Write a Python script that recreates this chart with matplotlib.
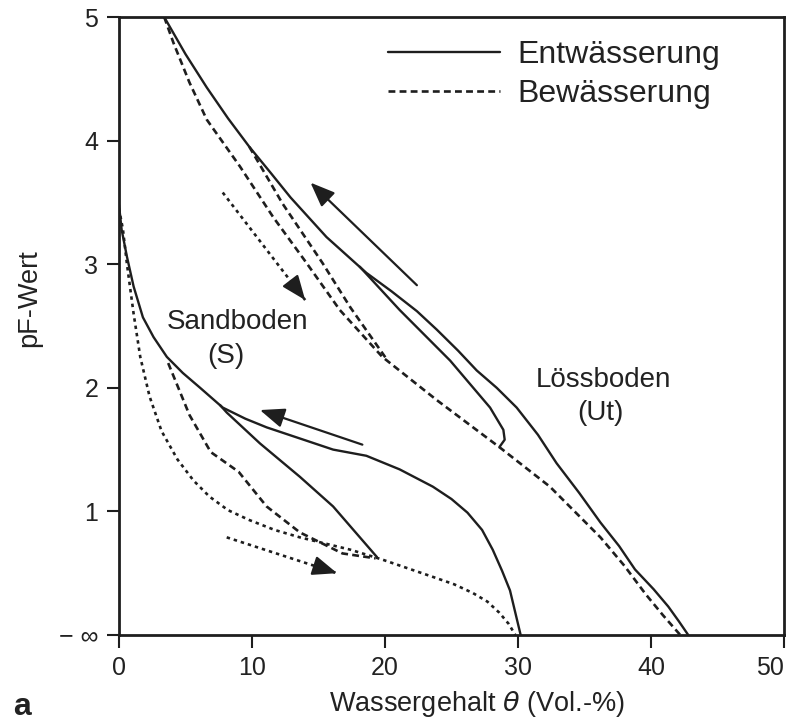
import matplotlib
matplotlib.use("Agg")
import matplotlib.pyplot as plt
from matplotlib.lines import Line2D

plt.rcParams['font.family'] = ['Liberation Sans', 'DejaVu Sans']

# ---------------- data ----------------
# Loessboden (Ut)
loess_drain_x = [3.4, 5.0, 6.6, 8.2, 9.8, 11.4, 12.9, 15.6, 18.6, 20.5, 22.4, 23.9, 25.5, 26.9, 28.4, 29.9,
                 31.5, 32.9, 34.6, 36.2, 37.6, 38.8, 40.2, 41.3, 42.1, 42.8]
loess_drain_y = [5.0, 4.70, 4.43, 4.18, 3.95, 3.74, 3.54, 3.22, 2.93, 2.78, 2.62, 2.47, 2.30, 2.14, 2.0, 1.84,
                 1.62, 1.39, 1.15, 0.91, 0.72, 0.53, 0.37, 0.23, 0.11, 0.0]
loess_wet_x = [3.4, 4.1, 5.3, 6.6, 9.1, 11.6, 14.1, 16.6, 19.8, 23.9, 28.6, 32.4, 36.2, 38.0, 39.6, 40.9, 42.2]
loess_wet_y = [5.0, 4.79, 4.47, 4.17, 3.79, 3.38, 3.01, 2.63, 2.25, 1.90, 1.52, 1.20, 0.79, 0.56, 0.33, 0.16, 0.0]
loess_wet_scan_x = [9.8, 12.3, 15.3, 17.4, 20.2]
loess_wet_scan_y = [3.95, 3.49, 3.01, 2.65, 2.22]
loess_drain_scan_x = [28.6, 29.0, 28.9, 27.9, 24.9, 21.1, 18.1]
loess_drain_scan_y = [1.52, 1.58, 1.66, 1.84, 2.22, 2.63, 2.98]
loess_drain_arrow = [(22.4, 2.83), (14.4, 3.66)]
loess_wet_arrow = [(7.8, 3.58), (14.0, 2.71)]

# Sandboden (S)
sand_drain_x = [0.0, 0.2, 0.6, 1.1, 1.8, 2.6, 3.6, 4.8, 6.1, 7.8, 9.5, 11.1, 13.6, 16.1, 18.6, 21.1, 23.6,
                25.0, 26.2, 27.3, 28.1, 28.8, 29.4, 29.8, 30.2]
sand_drain_y = [3.48, 3.28, 3.06, 2.82, 2.57, 2.41, 2.25, 2.12, 2.0, 1.84, 1.75, 1.68, 1.59, 1.50, 1.45, 1.34,
                1.20, 1.10, 0.99, 0.85, 0.69, 0.52, 0.36, 0.18, 0.0]
sand_wet_x = [0.0, 0.3, 0.6, 1.1, 1.6, 2.3, 3.2, 4.4, 5.6, 6.8, 8.2, 9.8, 11.7, 13.6, 15.5, 17.4, 19.8,
              21.7, 23.6, 25.2, 26.6, 27.7, 28.6, 29.3, 29.8]
sand_wet_y = [3.45, 3.28, 3.0, 2.6, 2.25, 1.93, 1.65, 1.42, 1.25, 1.12, 1.01, 0.93, 0.85, 0.79, 0.74, 0.69, 0.61,
              0.54, 0.47, 0.41, 0.34, 0.27, 0.18, 0.09, 0.0]
sand_wet_scan_x = [3.7, 5.3, 6.9, 9.0, 11.1, 13.6, 16.8, 19.3]
sand_wet_scan_y = [2.20, 1.78, 1.48, 1.32, 1.04, 0.83, 0.66, 0.62]
sand_drain_scan_x = [19.4, 16.1, 13.6, 10.6, 8.1, 7.6]
sand_drain_scan_y = [0.63, 1.04, 1.28, 1.55, 1.80, 1.86]
sand_drain_arrow = [(18.3, 1.54), (10.6, 1.82)]
sand_wet_arrow = [(8.1, 0.79), (16.4, 0.50)]

x_ticks = [0, 10, 20, 30, 40, 50]
y_ticks = [0, 1, 2, 3, 4, 5]
y_tick_labels = ['\u2212 \u221e', '1', '2', '3', '4', '5']
legend_labels = ['Entw\u00e4sserung', 'Bew\u00e4sserung']

# ---------------- figure ----------------
C = '#1e1e1e'
TC = '#222222'
fig = plt.figure(figsize=(7.9, 7.21), dpi=100)
ax = fig.add_axes([0.1506, 0.1193, 0.8418, 0.8571])

DOT = (0, (1.3, 1.5))
solid = dict(color=C, lw=1.7, solid_joinstyle='round', solid_capstyle='round')
dash = dict(color=C, lw=1.9, linestyle=(0, (2.6, 1.6)))
dot = dict(color=C, lw=1.9, linestyle=DOT)

ax.plot(loess_drain_x, loess_drain_y, **solid)
ax.plot(loess_wet_x, loess_wet_y, **dash)
ax.plot(loess_wet_scan_x, loess_wet_scan_y, **dash)
ax.plot(loess_drain_scan_x, loess_drain_scan_y, **solid)

ax.plot(sand_drain_x, sand_drain_y, **solid)
ax.plot(sand_wet_x, sand_wet_y, **dot)
ax.plot(sand_wet_scan_x, sand_wet_scan_y, **dash)
ax.plot(sand_drain_scan_x, sand_drain_scan_y, **solid)

head = dict(arrowstyle='-|>,head_length=0.75,head_width=0.3', mutation_scale=20,
            lw=1.6, color=C, shrinkA=0, shrinkB=0)

def arrow(pts, dotted):
    (x0, y0), (x1, y1) = pts
    if dotted:
        ax.plot([x0, x1], [y0, y1], **dot)
        xs, ys = x0 + 0.9 * (x1 - x0), y0 + 0.9 * (y1 - y0)
        ax.annotate('', xy=(x1, y1), xytext=(xs, ys), arrowprops=head)
    else:
        ax.annotate('', xy=(x1, y1), xytext=(x0, y0), arrowprops=head)

arrow(loess_drain_arrow, False)
arrow(sand_drain_arrow, False)
arrow(loess_wet_arrow, True)
arrow(sand_wet_arrow, True)

txt = dict(fontsize=20, color=TC, ha='center', va='center')
ax.text(8.9, 2.53, 'Sandboden', **txt)
ax.text(8.0, 2.26, '(S)', **txt)
ax.text(36.4, 2.06, 'L\u00f6ssboden', **txt)
ax.text(36.2, 1.80, '(Ut)', **txt)

handles = [Line2D([], [], **solid), Line2D([], [], **dash)]
ax.legend(handles, legend_labels, loc='upper left', bbox_to_anchor=(0.405, 0.963),
          frameon=False, fontsize=23, handlelength=3.5, handletextpad=0.55,
          labelspacing=0.29, borderpad=0, borderaxespad=0, labelcolor=TC)

ax.set_xlim(0, 50)
ax.set_ylim(0, 5)
ax.set_xticks(x_ticks)
ax.set_yticks(y_ticks)
ax.set_yticklabels(y_tick_labels)
ax.tick_params(direction='out', length=9, width=1.5, colors=C, labelsize=18, pad=6)
for lab in ax.get_xticklabels() + ax.get_yticklabels():
    lab.set_color(TC)
ax.get_xticklabels()[-1].set_ha('right')
for s in ax.spines.values():
    s.set_linewidth(2)
    s.set_color(C)

ax.set_xlabel('Wassergehalt $\\theta$ (Vol.-%)', fontsize=19.5, color=TC)
ax.xaxis.set_label_coords(0.538, -0.087)
ax.set_ylabel('pF-Wert', fontsize=19.5, color=TC)
ax.yaxis.set_label_coords(-0.115, 0.545)

fig.text(0.016, 0.008, 'a', fontsize=23, fontweight='bold', color=TC, va='baseline')

fig.savefig('out.png', dpi=100)
